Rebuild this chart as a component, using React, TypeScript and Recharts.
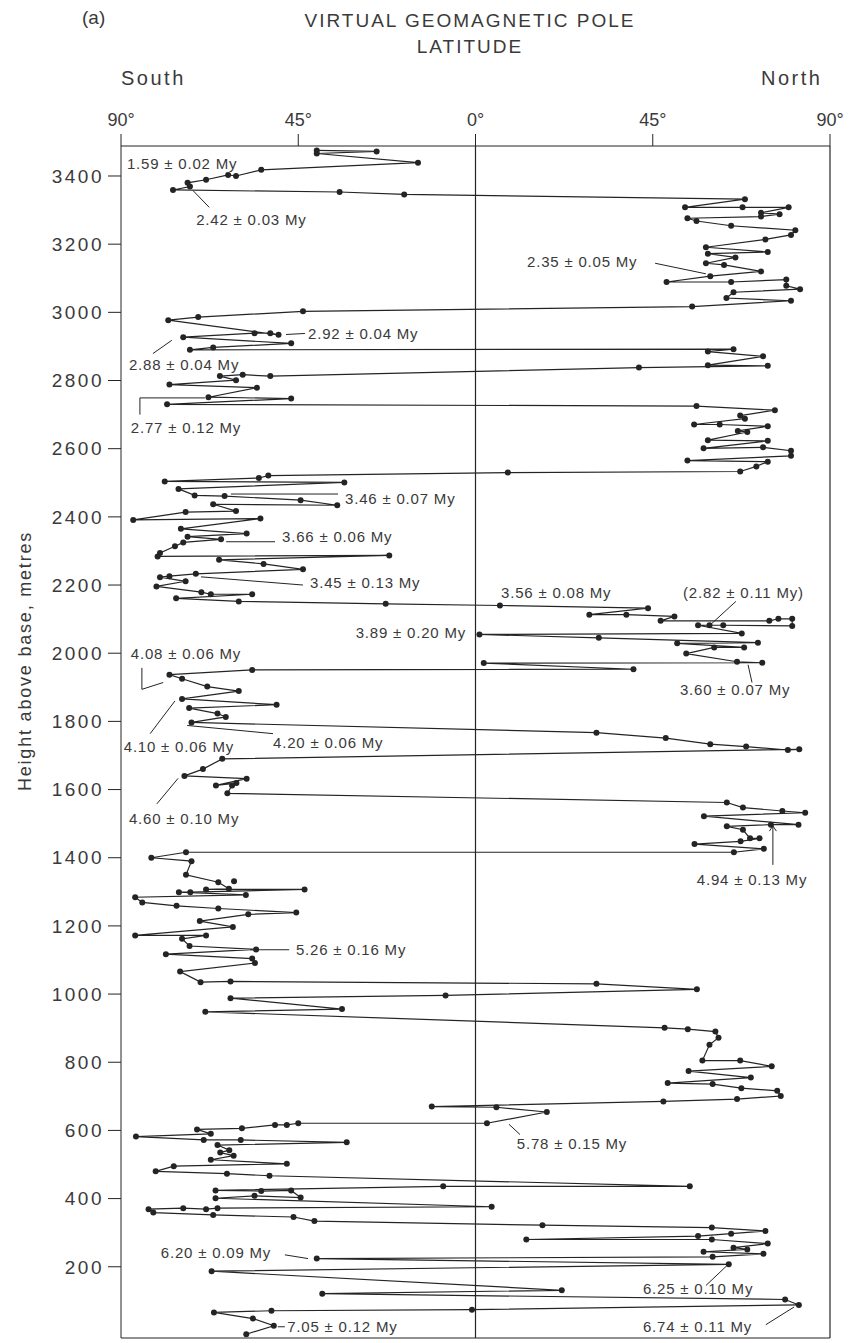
import { ScatterChart, Scatter, XAxis, YAxis, ReferenceLine } from 'recharts'

// x = VGP latitude (south negative), h = height above base in metres
const latTicks = [-90, -45, 0, 45, 90]
const heightTicks = [0, 200, 400, 600, 800, 1000, 1200, 1400, 1600, 1800, 2000, 2200, 2400, 2600, 2800, 3000, 3200, 3400]

// section path, read top to bottom (youngest first)
const sectionTop: [number, number][] = [
  [-40.3, 3475], [-25.1, 3472], [-40.3, 3466], [-14.6, 3439], [-54.4, 3418], [-60.8, 3400], [-62.8, 3403],
  [-68.4, 3389], [-73.1, 3380], [-72.5, 3369], [-76.8, 3359], [-34.5, 3353], [-18.1, 3346], [68.4, 3332],
  [53.2, 3308], [67.8, 3308], [79.5, 3308], [72.5, 3292], [77.2, 3288], [72.5, 3281], [53.8, 3276], [56.1, 3268],
  [64.9, 3254], [81.2, 3241], [80.1, 3227], [73.6, 3214], [58.5, 3191], [74.2, 3177], [59.0, 3172], [66.0, 3161],
  [58.5, 3144], [63.1, 3139], [72.5, 3120], [59.6, 3106], [48.5, 3089], [64.9, 3089], [78.9, 3096], [78.9, 3078],
  [82.4, 3068], [65.5, 3059], [63.7, 3042], [80.1, 3034],
  [55.0, 3017], [-43.8, 3003], [-70.4, 2986], [-78.0, 2977], [-50.0, 2934], [-52.1, 2939], [-56.1, 2939],
  [-74.2, 2927], [-46.8, 2909], [-66.6, 2897], [-72.5, 2890], [65.5, 2892], [59.0, 2885], [73.0, 2871],
  [59.0, 2845], [74.2, 2843], [41.5, 2838], [-52.1, 2813], [-59.1, 2817], [-64.9, 2813], [-60.8, 2801],
  [-77.7, 2788], [-55.5, 2779], [-67.8, 2751], [-46.8, 2747], [-78.3, 2730], [56.1, 2725], [76.0, 2713],
  [67.2, 2697], [68.4, 2688], [55.5, 2671], [62.0, 2671], [74.2, 2666], [66.6, 2652], [69.0, 2649], [59.0, 2625],
  [74.2, 2623], [57.9, 2601], [73.0, 2604], [80.1, 2594],
]

const sectionMiddle: [number, number][] = [
  [80.1, 2579], [53.8, 2565], [74.2, 2562], [71.3, 2548], [67.2, 2533], [8.2, 2530], [-52.6, 2521], [-55.0, 2514],
  [-78.9, 2504], [-33.3, 2501], [-75.4, 2482], [-71.3, 2463], [-63.7, 2461], [-44.4, 2449], [-35.1, 2434],
  [-66.6, 2437], [-60.8, 2417], [-73.6, 2414], [-86.9, 2391], [-54.6, 2395], [-74.8, 2365], [-58.1, 2351],
  [-73.1, 2342], [-64.6, 2334], [-74.2, 2325], [-76.3, 2314], [-80.1, 2294], [-80.7, 2284], [-21.9, 2287],
  [-65.1, 2274], [-53.8, 2262], [-43.8, 2246], [-71.0, 2233], [-77.7, 2226], [-80.1, 2223], [-73.6, 2211],
  [-81.0, 2196], [-69.6, 2179], [-67.2, 2173], [-56.7, 2173], [-76.0, 2161], [-60.1, 2152], [-22.8, 2145],
  [6.2, 2140], [43.8, 2132],
  [28.9, 2113], [38.3, 2113], [50.5, 2108], [47.0, 2095], [74.6, 2095], [76.9, 2101], [80.4, 2101], [80.4, 2080],
  [62.9, 2082], [59.4, 2082], [56.5, 2082], [67.6, 2058], [1.0, 2055], [31.3, 2045], [71.7, 2031], [51.2, 2029],
  [68.2, 2017], [60.6, 2017], [53.5, 1999], [66.4, 1975], [72.8, 1972], [2.1, 1971], [40.1, 1953], [-56.7, 1951],
  [-77.7, 1937], [-74.5, 1925], [-68.1, 1902], [-60.1, 1889], [-74.5, 1866], [-50.5, 1849], [-72.7, 1839],
  [-65.5, 1823], [-63.4, 1813], [-72.1, 1797], [30.7, 1767], [48.3, 1751], [59.6, 1733], [68.7, 1726],
  [79.3, 1716], [82.2, 1718], [-64.3, 1690], [-69.2, 1660], [-73.9, 1640], [-58.1, 1632],
  [-65.9, 1612], [-60.7, 1619], [-61.8, 1612], [-63.0, 1589], [63.8, 1562], [67.9, 1547], [77.9, 1537],
  [83.7, 1532], [58.0, 1522], [82.0, 1497], [75.0, 1497], [63.8, 1492], [67.9, 1482], [69.7, 1457], [72.1, 1457],
  [67.3, 1448], [55.6, 1440], [73.2, 1426], [65.6, 1416], [-73.5, 1416], [-82.3, 1400], [-72.1, 1390],
  [-73.5, 1350], [-65.3, 1328], [-62.6, 1309], [-68.4, 1307], [-43.4, 1307], [-72.4, 1299], [-75.3, 1299],
  [-58.3, 1291], [-86.4, 1284], [-84.6, 1269], [-75.9, 1259], [-65.3, 1251], [-45.5, 1239], [-57.7, 1234],
  [-70.0, 1214], [-61.6, 1197], [-86.4, 1172], [-68.4, 1172],
]

const sectionBase: [number, number][] = [
  [-74.5, 1162], [-72.6, 1141], [-55.7, 1131], [-78.6, 1117], [-56.7, 1104], [-56.0, 1091], [-75.0, 1066],
  [-69.8, 1035], [-62.2, 1037], [30.7, 1030], [56.2, 1014], [-7.6, 996], [-62.2, 988], [-33.9, 956], [-68.6, 948],
  [48.0, 901], [53.9, 897], [60.9, 890], [61.7, 872], [59.4, 851], [57.6, 805], [67.2, 805], [75.2, 788],
  [54.1, 774], [69.9, 755], [48.8, 739], [60.2, 736], [67.5, 724], [76.6, 716], [77.5, 701], [66.4, 692],
  [47.7, 685],
  [-11.1, 670], [5.3, 668], [18.1, 654], [2.9, 621], [-45.0, 621], [-47.9, 616], [-50.9, 616], [-59.3, 606],
  [-70.7, 603], [-67.2, 590], [-86.2, 582], [-69.0, 572], [-59.6, 572], [-32.7, 565], [-65.5, 557], [-62.5, 542],
  [-64.8, 535], [-61.4, 526], [-67.2, 514], [-47.9, 502], [-76.6, 495], [-81.2, 480], [-63.1, 473], [-52.3, 467],
  [54.4, 436], [-8.2, 436], [-66.0, 424], [-54.4, 422], [-46.8, 424], [-44.4, 403], [-56.1, 408], [-66.0, 401],
  [4.1, 376], [-65.5, 372], [-68.4, 369], [-74.2, 372], [-83.0, 369], [-81.8, 359], [-66.6, 352], [-46.2, 346],
  [-40.9, 334], [17.0, 322], [60.0, 315], [73.6, 305], [64.9, 297], [56.5, 290], [12.9, 280], [60.0, 280],
  [74.2, 268], [65.5, 256], [69.0, 251], [57.9, 244], [73.1, 238], [60.2, 229], [-40.3, 224], [64.3, 207],
  [-67.0, 187], [21.9, 131], [-38.9, 121], [78.6, 104], [82.1, 88], [-0.9, 74], [-51.8, 71], [-66.4, 66],
  [-56.5, 48], [-51.2, 27], [-58.2, 2],
]

const strayPoints: [number, number][] = [[-61.3, 1331]]

// age determinations: text, lat, height
const ageText = [
  '1.59 ± 0.02 My', '2.42 ± 0.03 My', '2.35 ± 0.05 My', '2.92 ± 0.04 My', '2.88 ± 0.04 My', '2.77 ± 0.12 My',
  '3.46 ± 0.07 My', '3.66 ± 0.06 My', '3.45 ± 0.13 My', '3.56 ± 0.08 My', '(2.82 ± 0.11 My)', '3.89 ± 0.20 My',
  '4.08 ± 0.06 My', '3.60 ± 0.07 My', '4.10 ± 0.06 My', '4.20 ± 0.06 My', '4.60 ± 0.10 My', '4.94 ± 0.13 My',
  '5.26 ± 0.16 My', '5.78 ± 0.15 My', '6.20 ± 0.09 My', '6.25 ± 0.10 My', '6.74 ± 0.11 My', '7.05 ± 0.12 My',
]
const ageLat = [-88.5, -70.9, 13.1, -42.5, -88.0, -87.5, -33.1, -49.1, -42.0, 6.5, 52.7, -2.4, -87.5, 51.9, -89.3, -51.4, -88.0, 56.2, -45.6, 10.5, -79.9, 42.5, 42.5, -47.8]
const ageHeight = [3438, 3273, 3149, 2938, 2848, 2663, 2455, 2342, 2206, 2179, 2179, 2061, 2000, 1894, 1727, 1739, 1516, 1337, 1130, 563, 241, 136, 24, 24]

// leader lines from labels to samples: [lat1, h1, lat2, h2]
const leaders: [number, number, number, number][] = [
  [-67.6, 3308, -71.7, 3357], [45.6, 3144, 58.5, 3113], [-48.1, 2935, -43.3, 2938], [-81.9, 2879, -77.1, 2918],
  [-85.2, 2700, -85.2, 2749], [-85.2, 2749, -68.7, 2749], [-62.1, 2467, -34.9, 2467], [-63.3, 2327, -50.9, 2327],
  [-69.7, 2224, -43.8, 2200], [66.1, 2152, 59.5, 2082], [-84.7, 1957, -84.7, 1894], [-84.7, 1894, -79.3, 1914],
  [69.2, 1966, 70.2, 1914], [-82.6, 1764, -76.3, 1860], [-73.2, 1788, -51.4, 1764], [-80.9, 1558, -75.5, 1633],
  [75.5, 1379, 75.5, 1493], [74.6, 1478, 75.5, 1493], [76.4, 1478, 75.5, 1493], [-57.2, 1130, -47.3, 1130],
  [11.3, 588, 8.5, 618], [-48.4, 235, -42.5, 224], [58.5, 145, 63.8, 203], [73.7, 30, 80.9, 82],
  [-50.2, 24, -48.4, 24],
]

const toPoints = (rows: [number, number][]) => rows.map(([lat, h]) => ({ lat, h }))
const sectionData = toPoints([...sectionTop, ...sectionMiddle, ...sectionBase])
const strayData = toPoints(strayPoints)
const labelData = ageText.map((text, i) => ({
  text,
  lat: ageLat[i],
  h: ageHeight[i],
  anchor: text.startsWith('3.89') ? 'end' : 'start',
}))

const INK = '#242424'
const TEXT = '#3a3a3a'
const FONT = '"Liberation Sans", Arial, sans-serif'

const Dot = (p: any) => <circle cx={p.cx} cy={p.cy} r={3} fill={INK} />

const AgeLabel = (p: any) => (
  <text
    x={p.cx}
    y={p.cy}
    textAnchor={p.payload.anchor}
    dominantBaseline="central"
    fontSize={15}
    letterSpacing={0.8}
    fill={TEXT}
    fontFamily={FONT}
  >
    {p.payload.text}
  </text>
)

const HeightTitle = () => (
  <text
    x={25}
    y={661}
    transform="rotate(-90 25 661)"
    textAnchor="middle"
    dominantBaseline="central"
    fontSize={18}
    letterSpacing={1.8}
    fill={TEXT}
    fontFamily={FONT}
  >
    Height above base, metres
  </text>
)

export default function App() {
  return (
    <div style={{ position: 'absolute', left: 0, top: 0, width: 854, height: 1343, background: '#fff', fontFamily: FONT, color: TEXT }}>
      <div style={{ position: 'absolute', left: 82, top: 7, fontSize: 19 }}>(a)</div>
      <div style={{ position: 'absolute', left: 270, width: 400, top: 8, fontSize: 19, letterSpacing: 2, textAlign: 'center', lineHeight: '26px' }}>
        VIRTUAL GEOMAGNETIC POLE
        <br />
        LATITUDE
      </div>
      <div style={{ position: 'absolute', left: 121, top: 67, fontSize: 20, letterSpacing: 2.5 }}>South</div>
      <div style={{ position: 'absolute', left: 761, top: 67, fontSize: 20, letterSpacing: 2.5 }}>North</div>

      <ScatterChart width={854} height={1343} margin={{ top: 0, right: 24, bottom: 5, left: 0 }}>
        <XAxis
          type="number"
          dataKey="lat"
          orientation="top"
          domain={[-90, 90]}
          ticks={latTicks}
          tickFormatter={(v: number) => `${Math.abs(v)}°`}
          height={146}
          tickSize={12}
          tickMargin={8}
          stroke={INK}
          tick={{ fill: TEXT, fontSize: 18, fontFamily: FONT }}
        />
        <YAxis
          type="number"
          dataKey="h"
          domain={[-9, 3488]}
          ticks={heightTicks}
          width={121}
          tickSize={13}
          tickMargin={4}
          stroke={INK}
          tick={{ fill: TEXT, fontSize: 19, letterSpacing: 2.5, fontFamily: FONT }}
          label={<HeightTitle />}
        />
        <ReferenceLine x={0} stroke={INK} strokeWidth={1.2} />
        <ReferenceLine x={90} stroke={INK} strokeWidth={1.2} />
        <ReferenceLine y={-9} stroke={INK} strokeWidth={1.2} />
        {leaders.map(([x1, y1, x2, y2], i) => (
          <ReferenceLine key={i} segment={[{ x: x1, y: y1 }, { x: x2, y: y2 }]} stroke={INK} strokeWidth={1} />
        ))}
        <Scatter
          data={sectionData}
          line={{ stroke: INK, strokeWidth: 1.2 }}
          lineType="joint"
          shape={Dot}
          isAnimationActive={false}
        />
        <Scatter data={strayData} shape={Dot} isAnimationActive={false} />
        <Scatter data={labelData} shape={AgeLabel} isAnimationActive={false} />
      </ScatterChart>
    </div>
  )
}
